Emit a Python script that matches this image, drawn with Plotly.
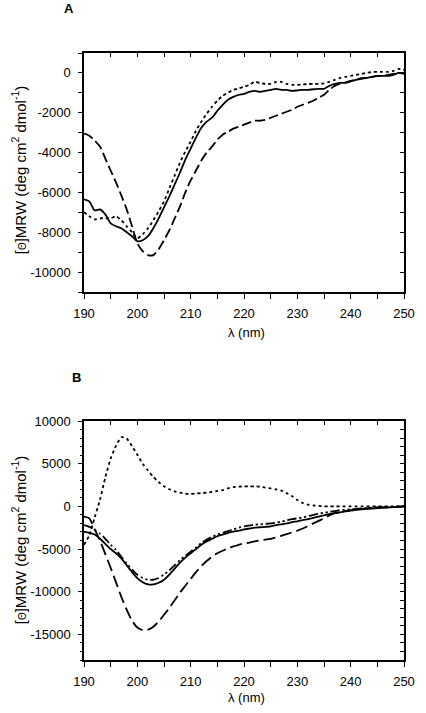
import plotly.graph_objects as go

# ---------------- Panel A data ----------------
wl_a = [190,191,192,193,194,195,196,197,198,199,200,201,202,203,204,205,206,207,208,209,
        210,211,212,213,214,215,216,217,218,219,220,221,222,223,224,225,226,227,228,229,
        230,231,232,233,234,235,236,237,238,239,240,241,242,243,244,245,246,247,248,249,250]
a_solid = [-6350,-6450,-6900,-6850,-7100,-7550,-7700,-7800,-8000,-8200,-8450,-8400,-8200,-7800,-7300,-6750,-6200,-5600,-5000,-4350,
           -3800,-3250,-2750,-2450,-2250,-1900,-1600,-1350,-1200,-1100,-1050,-950,-900,-950,-900,-850,-800,-850,-850,-900,
           -880,-850,-850,-820,-800,-800,-650,-550,-500,-500,-420,-350,-260,-250,-200,-150,-150,-150,-100,0,-50]
a_dotted = [-7000,-7200,-7350,-7300,-7300,-7300,-7200,-7400,-7700,-8000,-8300,-8100,-7800,-7400,-6950,-6450,-5800,-5150,-4500,-3950,
            -3450,-2900,-2450,-2050,-1700,-1400,-1150,-1000,-850,-780,-700,-600,-450,-500,-550,-550,-450,-450,-550,-600,
            -600,-580,-560,-550,-550,-520,-450,-350,-250,-200,-150,-100,-50,0,50,50,50,50,100,200,150]
a_dashed = [-3050,-3150,-3400,-3700,-4300,-4900,-5500,-6150,-6850,-7700,-8550,-8950,-9150,-9150,-8850,-8400,-7900,-7300,-6700,-6000,
            -5400,-4900,-4400,-4000,-3700,-3350,-3100,-2950,-2800,-2700,-2600,-2500,-2400,-2400,-2350,-2250,-2150,-2050,-1950,-1850,
            -1700,-1600,-1500,-1400,-1250,-1100,-850,-650,-550,-480,-400,-350,-300,-250,-200,-150,-150,-100,-50,0,0]

# ---------------- Panel B data ----------------
wl_b = wl_a
b_solid = [-3000,-3100,-3300,-3800,-4400,-5000,-5500,-6100,-6900,-7700,-8400,-8900,-9150,-9150,-8950,-8600,-8000,-7300,-6600,-6000,
           -5500,-5000,-4500,-4100,-3800,-3500,-3300,-3100,-2950,-2850,-2700,-2600,-2500,-2450,-2400,-2350,-2200,-2100,-2000,-1850,
           -1750,-1600,-1500,-1350,-1200,-1050,-900,-800,-700,-600,-500,-420,-350,-300,-250,-200,-150,-120,-100,-50,0]
b_dotted = [-4500,-3400,-1300,800,3400,5600,7100,8100,7950,7050,6050,5000,4200,3450,2850,2350,2000,1750,1600,1500,
            1450,1500,1550,1600,1700,1800,1900,2100,2250,2300,2350,2350,2350,2300,2200,2100,2000,1850,1550,1200,
            750,400,200,100,50,0,0,0,0,0,0,0,0,0,0,0,0,0,0,30,50]
b_dashed = [-1200,-1400,-2700,-4000,-5600,-7200,-8900,-10600,-12100,-13400,-14200,-14500,-14450,-14100,-13500,-12700,-11900,-11000,-10100,-9300,
            -8500,-7700,-7000,-6400,-5900,-5500,-5200,-4900,-4700,-4500,-4350,-4250,-4100,-4000,-3900,-3800,-3650,-3450,-3250,-3050,
            -2850,-2600,-2300,-2000,-1700,-1400,-1050,-800,-650,-550,-450,-380,-300,-250,-200,-170,-150,-120,-100,-50,0]
b_dashdot = [-2200,-2400,-2750,-3200,-3800,-4500,-5100,-5900,-6700,-7400,-8000,-8400,-8600,-8600,-8400,-8000,-7500,-6900,-6300,-5800,
             -5300,-4800,-4300,-3900,-3600,-3300,-3100,-2900,-2700,-2500,-2350,-2250,-2150,-2100,-2050,-2000,-1900,-1800,-1650,-1500,
             -1400,-1300,-1150,-1000,-850,-750,-650,-550,-450,-400,-350,-300,-250,-200,-150,-120,-100,-80,-50,-20,0]

# ---------------- Ticks ----------------
x_tickvals = [190,200,210,220,230,240,250]
x_ticktext = ["190","200","210","220","230","240","250"]
ya_tickvals = [0,-2000,-4000,-6000,-8000,-10000]
ya_ticktext = ["0","-2000","-4000","-6000","-8000","-10000"]
yb_tickvals = [10000,5000,0,-5000,-10000,-15000]
yb_ticktext = ["10000","5000","0","-5000","-10000","-15000"]

x_range = [190, 250]
ya_range = [-11000, 1000]
yb_range = [-18000, 10000]

title_y = ('[<span style="font-size:10px">Θ</span>]MRW (deg cm<sup>2</sup> dmol<sup>-1</sup>)')
title_x = "λ (nm)"

FONT = "Liberation Sans, Arial, sans-serif"
BLACK = "#000000"

W, H = 426, 713
PL, PR, PT, PB = 84, 415, 53, 660  # plot area in page pixels

fig = go.Figure()

def add(x, y, xa, ya, dash, width=1.8):
    fig.add_trace(go.Scatter(x=x, y=y, mode="lines", xaxis=xa, yaxis=ya,
                             line=dict(color=BLACK, width=width, dash=dash, shape="spline", smoothing=0.6),
                             showlegend=False, hoverinfo="skip"))

add(wl_a, a_solid, "x", "y", "solid")
add(wl_a, a_dotted, "x", "y", "dot", 1.8)
add(wl_a, a_dashed, "x", "y", "10px,4px")

add(wl_b, b_dotted, "x3", "y3", "dot", 1.8)
add(wl_b, b_dashdot, "x3", "y3", "9px,3px,2px,3px,2px,3px")
add(wl_b, b_solid, "x3", "y3", "solid")
add(wl_b, b_dashed, "x3", "y3", "12px,5px")

# empty traces so that the mirrored (top/right) axes get drawn
for xa, ya in (("x2", "y2"), ("x4", "y4")):
    fig.add_trace(go.Scatter(x=[], y=[], xaxis=xa, yaxis=ya, mode="lines",
                             showlegend=False, hoverinfo="skip"))

plot_h = PB - PT
yA_bottom = 292
yB_top = 421
dom_a = [(PB - yA_bottom) / plot_h, 1.0]
dom_b = [0.0, (PB - yB_top) / plot_h]

tickfont = dict(family=FONT, size=13, color=BLACK)

def minor(dtick, ln, where):
    return dict(tickmode="linear", tick0=0, dtick=dtick, ticks=where, ticklen=ln,
                tickwidth=1, tickcolor=BLACK, showgrid=False)

def xbottom(anchor):
    return dict(domain=[0, 1], anchor=anchor, range=x_range, tickmode="array",
                tickvals=x_tickvals, ticktext=x_ticktext, ticks="outside", ticklen=5,
                tickwidth=1, tickcolor=BLACK, showline=True, linecolor=BLACK, linewidth=1.5,
                showgrid=False, zeroline=False, tickfont=tickfont, ticklabelstandoff=4,
                minor=minor(5, 5, "outside"))

def xtop(overlay, anchor):
    return dict(overlaying=overlay, anchor=anchor, side="top", range=x_range, tickmode="linear",
                tick0=190, dtick=5, ticks="inside", ticklen=4, tickwidth=1, tickcolor=BLACK,
                showticklabels=False, showline=True, linecolor=BLACK, linewidth=1.5,
                showgrid=False, zeroline=False)

def yleft(anchor, domain, rng, tv, tt, mn):
    return dict(domain=domain, anchor=anchor, range=rng, tickmode="array", tickvals=tv, ticktext=tt,
                ticks="outside", ticklen=4, tickwidth=1, tickcolor=BLACK, showline=True,
                linecolor=BLACK, linewidth=1.5, showgrid=False, zeroline=False, tickfont=tickfont,
                ticklabelstandoff=5, minor=mn)

def yright(overlay, anchor, rng, dtick):
    return dict(overlaying=overlay, anchor=anchor, side="right", range=rng, tickmode="linear",
                tick0=0, dtick=dtick, ticks="inside", ticklen=4, tickwidth=1, tickcolor=BLACK,
                showticklabels=False, showline=True, linecolor=BLACK, linewidth=1.5,
                showgrid=False, zeroline=False)

fig.update_layout(
    width=W, height=H,
    margin=dict(l=PL, r=W - PR, t=PT, b=H - PB, pad=0),
    paper_bgcolor="white", plot_bgcolor="white",
    font=dict(family=FONT, size=13, color=BLACK),
    xaxis=xbottom("y"),
    yaxis=yleft("x", dom_a, ya_range, ya_tickvals, ya_ticktext, minor(1000, 4, "outside")),
    xaxis2=xtop("x", "y"),
    yaxis2=yright("y", "x", ya_range, 1000),
    xaxis3=xbottom("y3"),
    yaxis3=yleft("x3", dom_b, yb_range, yb_tickvals, yb_ticktext, minor(1000, 2, "outside")),
    xaxis4=xtop("x3", "y3"),
    yaxis4=yright("y3", "x3", yb_range, 1000),
)

# page px -> paper coords
def px_x(p):
    return (p - PL) / (PR - PL)

def px_y(p):
    return (PB - p) / (PB - PT)

ann = []
ann.append(dict(text="<b>A</b>", x=px_x(69), y=px_y(0), size=13, yanchor="top"))
ann.append(dict(text="<b>B</b>", x=px_x(76), y=px_y(377), size=13))
ann.append(dict(text=title_x, x=px_x(252), y=px_y(332), size=13))
ann.append(dict(text=title_x, x=px_x(252), y=px_y(697), size=13))
ann.append(dict(text=title_y, x=px_x(16), y=px_y(170), size=15, textangle=-90))
ann.append(dict(text=title_y, x=px_x(16), y=px_y(540), size=15, textangle=-90))
out = []
for a in ann:
    s = a.pop("size")
    ya = a.pop("yanchor", "middle")
    a.update(xref="paper", yref="paper", showarrow=False, xanchor="center", yanchor=ya,
             borderpad=0, font=dict(family=FONT, size=s, color=BLACK))
    out.append(a)
fig.update_layout(annotations=out)

# remove the browser's default 8px body margin so the figure sits at the page origin
fig.write_html("out.html", config={"displayModeBar": False},
               post_script="document.body.style.margin='0px';")
